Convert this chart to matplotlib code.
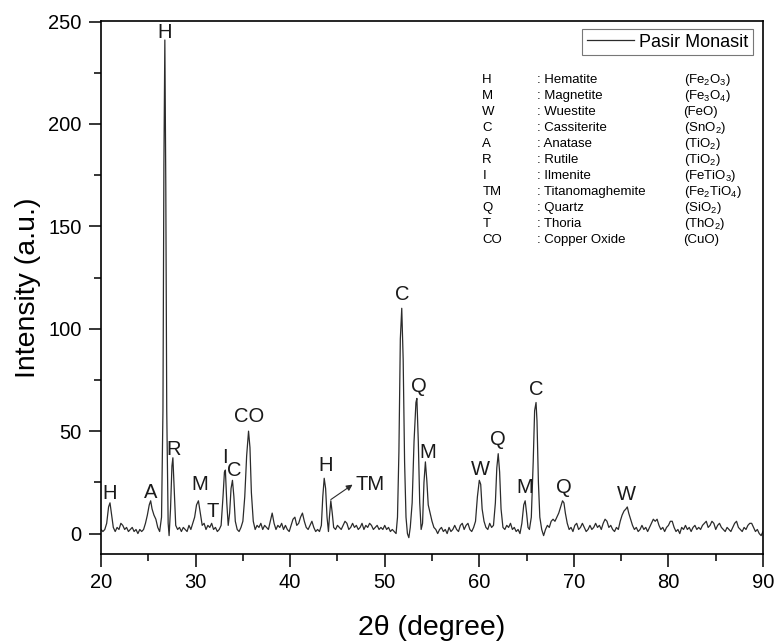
import matplotlib
matplotlib.use("Agg")
import matplotlib.pyplot as plt
from matplotlib.ticker import MultipleLocator

plt.rcParams['font.family'] = ['Liberation Sans', 'DejaVu Sans']
plt.rcParams['mathtext.fontset'] = 'custom'
plt.rcParams['mathtext.rm'] = 'Liberation Sans'
plt.rcParams['mathtext.it'] = 'Liberation Sans:italic'
plt.rcParams['mathtext.bf'] = 'Liberation Sans:bold'

# === XRD pattern (2theta in degree, intensity a.u.) ===
two_theta = [
    20.0, 20.2, 20.4, 20.6, 20.8, 20.95, 21.1, 21.3, 21.5, 21.7, 21.9, 22.1, 22.3, 22.5, 22.7, 22.9,
    23.1, 23.3, 23.5, 23.7, 23.9, 24.1, 24.3, 24.5, 24.7, 24.9, 25.1, 25.25, 25.4, 25.6, 25.8, 26.0,
    26.2, 26.4, 26.55, 26.65, 26.75, 26.85, 26.95, 27.1, 27.2, 27.35, 27.5, 27.6, 27.75, 27.9, 28.1, 28.3,
    28.5, 28.7, 28.9, 29.1, 29.3, 29.5, 29.7, 29.9, 30.1, 30.3, 30.5, 30.7, 30.9, 31.1, 31.3, 31.5,
    31.7, 31.9, 32.1, 32.3, 32.5, 32.7, 32.9, 33.05, 33.15, 33.3, 33.45, 33.6, 33.75, 33.9, 34.05, 34.2,
    34.4, 34.6, 34.8, 35.0, 35.2, 35.4, 35.6, 35.75, 35.9, 36.1, 36.3, 36.5, 36.7, 36.9, 37.1, 37.3,
    37.5, 37.7, 37.9, 38.1, 38.3, 38.5, 38.7, 38.9, 39.1, 39.3, 39.5, 39.7, 39.9, 40.1, 40.3, 40.5,
    40.7, 40.9, 41.1, 41.3, 41.5, 41.7, 41.9, 42.1, 42.3, 42.5, 42.7, 42.9, 43.1, 43.3, 43.45, 43.6,
    43.75, 43.9, 44.05, 44.15, 44.3, 44.45, 44.6, 44.8, 45.0, 45.2, 45.4, 45.6, 45.8, 46.0, 46.2, 46.4,
    46.6, 46.8, 47.0, 47.2, 47.4, 47.6, 47.8, 48.0, 48.2, 48.4, 48.6, 48.8, 49.0, 49.2, 49.4, 49.6,
    49.8, 50.0, 50.2, 50.4, 50.6, 50.8, 51.0, 51.2, 51.35, 51.5, 51.65, 51.8, 51.95, 52.1, 52.25, 52.4,
    52.55, 52.7, 52.9, 53.1, 53.3, 53.4, 53.55, 53.7, 53.85, 54.0, 54.15, 54.3, 54.45, 54.6, 54.8, 55.0,
    55.2, 55.4, 55.6, 55.8, 56.0, 56.2, 56.4, 56.6, 56.8, 57.0, 57.2, 57.4, 57.6, 57.8, 58.0, 58.2,
    58.4, 58.6, 58.8, 59.0, 59.2, 59.4, 59.6, 59.8, 60.0, 60.15, 60.3, 60.5, 60.7, 60.9, 61.1, 61.3,
    61.5, 61.7, 61.85, 62.0, 62.15, 62.3, 62.5, 62.7, 62.9, 63.1, 63.3, 63.5, 63.7, 63.9, 64.1, 64.3,
    64.5, 64.7, 64.85, 65.0, 65.15, 65.3, 65.5, 65.7, 65.85, 66.0, 66.1, 66.25, 66.4, 66.6, 66.8, 67.0,
    67.2, 67.4, 67.6, 67.8, 68.0, 68.2, 68.4, 68.6, 68.8, 68.95, 69.1, 69.3, 69.5, 69.7, 69.9, 70.1,
    70.3, 70.5, 70.7, 70.9, 71.1, 71.3, 71.5, 71.7, 71.9, 72.1, 72.3, 72.5, 72.7, 72.9, 73.1, 73.3,
    73.5, 73.7, 73.9, 74.1, 74.3, 74.5, 74.7, 74.9, 75.1, 75.3, 75.5, 75.65, 75.8, 76.0, 76.2, 76.4,
    76.6, 76.8, 77.0, 77.2, 77.4, 77.6, 77.8, 78.0, 78.2, 78.4, 78.6, 78.8, 79.0, 79.2, 79.4, 79.6,
    79.8, 80.0, 80.2, 80.4, 80.6, 80.8, 81.0, 81.2, 81.4, 81.6, 81.8, 82.0, 82.2, 82.4, 82.6, 82.8,
    83.0, 83.2, 83.4, 83.6, 83.8, 84.0, 84.2, 84.4, 84.6, 84.8, 85.0, 85.2, 85.4, 85.6, 85.8, 86.0,
    86.2, 86.4, 86.6, 86.8, 87.0, 87.2, 87.4, 87.6, 87.8, 88.0, 88.2, 88.4, 88.6, 88.8, 89.0, 89.2,
    89.4, 89.6, 89.8, 90.0,
]
intensity = [
    2, 1, 2, 5, 13, 15, 10, 3, 1, 3, 2, 5, 4, 2, 3, 1,
    2, 3, 1, 2, 0, 2, 1, 2, 5, 9, 14, 16, 12, 9, 7, 3,
    1, 8, 60, 180, 241, 170, 60, 5, -1, 12, 33, 37, 20, 4, 2, 3,
    1, 3, 2, 1, 4, 2, 5, 8, 14, 16, 10, 4, 5, 2, 4, 3,
    5, 2, 3, 1, 2, 4, 18, 30, 31, 15, 4, 10, 22, 26, 18, 6,
    2, 1, 3, 6, 18, 38, 50, 42, 20, 6, 2, 4, 3, 5, 2, 4,
    3, 2, 6, 10, 5, 2, 4, 3, 5, 2, 4, 2, 1, 4, 7, 8,
    4, 5, 8, 10, 6, 3, 2, 4, 6, 3, 1, 2, 1, 4, 18, 27,
    22, 8, 1, 8, 16, 10, 3, 2, 4, 3, 2, 4, 6, 5, 2, 3,
    5, 3, 4, 2, 3, 5, 2, 4, 3, 5, 4, 2, 3, 4, 2, 3,
    2, 4, 2, 3, 1, 2, 1, 0, 8, 40, 95, 110, 85, 35, 8, 0,
    -2, 3, 15, 45, 64, 66, 45, 15, 2, 5, 25, 35, 26, 14, 10, 6,
    3, 2, 0, 2, 3, 1, 2, 0, 3, 1, 2, 4, 2, 1, 4, 5,
    2, 4, 5, 2, 1, 3, 6, 18, 26, 24, 12, 6, 3, 2, 5, 3,
    4, 15, 32, 39, 30, 12, 3, 2, 4, 3, 5, 2, 3, 1, 2, 0,
    5, 14, 16, 10, 3, 2, 8, 35, 60, 64, 55, 25, 8, 2, -1, 2,
    4, 3, 6, 7, 6, 8, 10, 13, 16, 15, 10, 5, 2, 3, 1, 4,
    5, 2, 3, 5, 3, 1, 2, 4, 2, 3, 5, 3, 4, 2, 5, 7,
    6, 3, 4, 2, 1, 3, 2, 6, 9, 11, 12, 13, 10, 7, 4, 2,
    3, 1, 2, 4, 2, 3, 1, 3, 5, 7, 6, 7, 4, 2, 3, 1,
    3, 4, 6, 6, 3, 1, 2, 0, 3, 2, 4, 2, 3, 1, 3, 4,
    2, 3, 2, 4, 5, 6, 3, 4, 6, 5, 2, 4, 5, 3, 2, 1,
    3, 2, 1, 3, 5, 6, 3, 2, 1, 3, 2, 4, 5, 5, 3, 1,
    2, 0, -1, 1,
]

# === Peak labels (letter, 2theta, height of label) ===
peak_labels = [
    ('H', 20.95, 19.5), ('A', 25.25, 20.0), ('H', 26.77, 244.5), ('R', 27.65, 41.0),
    ('M', 30.4, 24.0), ('T', 31.8, 10.8), ('I', 33.1, 37.0), ('C', 34.06, 31.0),
    ('CO', 35.7, 57.0), ('H', 43.8, 33.2), ('C', 51.9, 116.5), ('Q', 53.66, 71.8),
    ('M', 54.5, 39.6), ('W', 60.08, 31.2), ('Q', 62.0, 45.8), ('M', 64.83, 22.3),
    ('C', 66.07, 70.5), ('Q', 68.9, 22.3), ('W', 75.6, 19.0),
]

# === Phase list ===
phase_codes = ['H', 'M', 'W', 'C', 'A', 'R', 'I', 'TM', 'Q', 'T', 'CO']
phase_names = ['Hematite', 'Magnetite', 'Wuestite', 'Cassiterite', 'Anatase', 'Rutile',
               'Ilmenite', 'Titanomaghemite', 'Quartz', 'Thoria', 'Copper Oxide']
phase_formulas = [r'(Fe$_2$O$_3$)', r'(Fe$_3$O$_4$)', '(FeO)', r'(SnO$_2$)', r'(TiO$_2$)',
                  r'(TiO$_2$)', r'(FeTiO$_3$)', r'(Fe$_2$TiO$_4$)', r'(SiO$_2$)',
                  r'(ThO$_2$)', '(CuO)']

# === Plot ===
fig = plt.figure(figsize=(7.77, 6.42), dpi=100)
ax = fig.add_axes([0.130, 0.137, 0.852, 0.831])
ax.plot(two_theta, intensity, color='#2b2b2b', linewidth=0.9, label='Pasir Monasit')

ax.set_xlim(20, 90)
ax.set_ylim(-10, 250.5)
ax.xaxis.set_major_locator(MultipleLocator(10))
ax.xaxis.set_minor_locator(MultipleLocator(5))
ax.yaxis.set_major_locator(MultipleLocator(50))
ax.yaxis.set_minor_locator(MultipleLocator(25))
ax.tick_params(which='major', direction='out', length=9, width=1.1, labelsize=14.5, pad=5)
ax.tick_params(which='minor', direction='out', length=5, width=1.1)
for sp in ax.spines.values():
    sp.set_linewidth(1.2)
ax.set_xlabel('2θ (degree)', fontsize=20.5, labelpad=16)
ax.set_ylabel('Intensity (a.u.)', fontsize=20.5, labelpad=5)

for lbl, px, py in peak_labels:
    ax.text(px, py, lbl, fontsize=14.5, ha='center', va='center', color='#1a1a1a')

ax.annotate('', xy=(46.6, 23.9), xytext=(44.3, 16.6),
            arrowprops=dict(arrowstyle='-|>', color='#2b2b2b', lw=0.8,
                            mutation_scale=9, shrinkA=0, shrinkB=0))
ax.text(48.4, 24.2, 'TM', fontsize=14.5, ha='center', va='center', color='#1a1a1a')

leg = ax.legend(loc='upper right', bbox_to_anchor=(0.985, 0.984), borderaxespad=0,
                fontsize=13, handlelength=2.6, handletextpad=0.3, borderpad=0.25,
                fancybox=False, frameon=True)
leg.get_frame().set_edgecolor('#555555')
leg.get_frame().set_linewidth(0.8)

# === Phase table ===
for i in range(len(phase_codes)):
    yy = (554 - (80 + 16 * i)) / 533.5
    ax.text(0.576, yy, phase_codes[i], transform=ax.transAxes, fontsize=9.5, va='center')
    ax.text(0.659, yy, ': ' + phase_names[i], transform=ax.transAxes, fontsize=9.5, va='center')
    ax.text(0.880, yy, phase_formulas[i], transform=ax.transAxes, fontsize=9.5, va='center')

fig.savefig('out.png', dpi=100)
